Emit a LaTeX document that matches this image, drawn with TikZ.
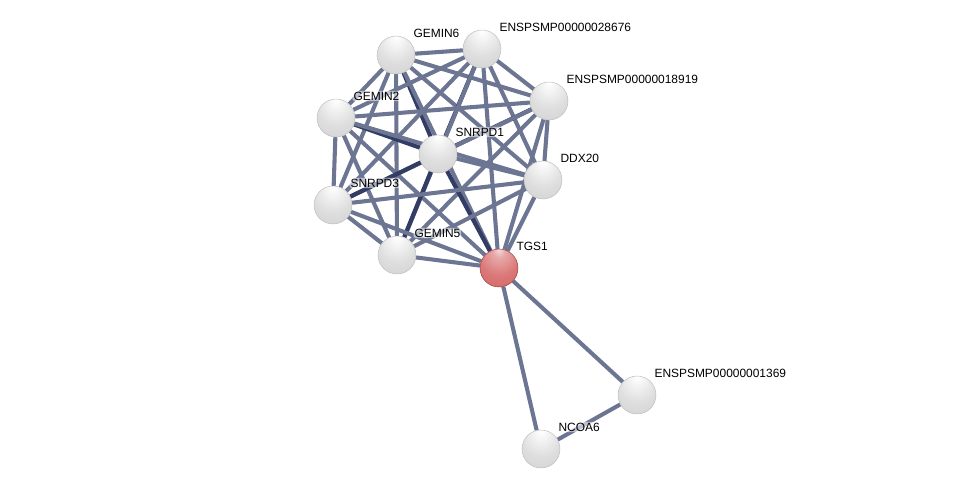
\documentclass[tikz,border=0pt]{standalone}
\usepackage{fontspec}
\setmainfont{Liberation Sans}
\usetikzlibrary{backgrounds}
\definecolor{edgec}{RGB}{108,117,146}
\definecolor{edged}{RGB}{50,60,100}
\definecolor{tgsc}{RGB}{212,96,96}
\definecolor{tgsrim}{RGB}{145,50,50}
\pgfdeclareradialshading{protball}{\pgfpoint{0bp}{24bp}}{%
  color(0bp)=(white); color(8bp)=(white!92!gray); color(26bp)=(gray!26);
  color(50bp)=(gray!38); color(64bp)=(gray!58); color(76bp)=(gray!72)}
\pgfdeclareradialshading{queryball}{\pgfpoint{0bp}{24bp}}{%
  color(0bp)=(white!75!tgsc); color(8bp)=(white!45!tgsc); color(26bp)=(white!15!tgsc);
  color(50bp)=(tgsc); color(64bp)=(tgsrim!75!tgsc); color(76bp)=(tgsrim)}
\tikzset{
  prot/.style={circle, minimum size=0.95cm, inner sep=0pt, shading=protball, draw=gray!55, line width=0.3pt},
  query/.style={prot, shading=queryball, draw=tgsrim},
  lbl/.style={anchor=west, inner sep=0.6pt, fill=white, fill opacity=0.55, text opacity=1,
    rounded corners=1pt, font=\fontsize{8.5}{9}\selectfont},
  lnk/.style={draw=edgec, line width=2.9pt},
  lnkd/.style={draw=edged, line width=3pt}
}
\begin{document}
\begin{tikzpicture}
  \useasboundingbox (0,0) rectangle (24.4,-12.375);
      \draw
        (9.9,-1.375) node[prot] (GEMIN6){} ++(0.41,0.55) node[lbl] (GEMIN6l){GEMIN6}
        (12.05,-1.225) node[prot] (E28676){} ++(0.41,0.55) node[lbl] (E28676l){ENSPSMP00000028676}
        (13.725,-2.525) node[prot] (E18919){} ++(0.41,0.55) node[lbl] (E18919l){ENSPSMP00000018919}
        (8.4,-2.95) node[prot] (GEMIN2){} ++(0.41,0.55) node[lbl] (GEMIN2l){GEMIN2}
        (10.95,-3.85) node[prot] (SNRPD1){} ++(0.41,0.55) node[lbl] (SNRPD1l){SNRPD1}
        (13.575,-4.5) node[prot] (DDX20){} ++(0.41,0.55) node[lbl] (DDX20l){DDX20}
        (8.325,-5.125) node[prot] (SNRPD3){} ++(0.41,0.55) node[lbl] (SNRPD3l){SNRPD3}
        (9.925,-6.375) node[prot] (GEMIN5){} ++(0.41,0.55) node[lbl] (GEMIN5l){GEMIN5}
        (12.475,-6.7) node[query] (TGS1){} ++(0.41,0.55) node[lbl] (TGS1l){TGS1}
        (15.925,-9.875) node[prot] (E1369){} ++(0.41,0.55) node[lbl] (E1369l){ENSPSMP00000001369}
        (13.525,-11.225) node[prot] (NCOA6){} ++(0.41,0.55) node[lbl] (NCOA6l){NCOA6};
      \begin{scope}[on background layer]
        \draw[lnk] (GEMIN6) to (E28676);
        \draw[lnk] (GEMIN6) to (E18919);
        \draw[lnk] (GEMIN6) to (GEMIN2);
        \draw[lnkd] (GEMIN6) to (SNRPD1);
        \draw[lnk] (GEMIN6) to (DDX20);
        \draw[lnk] (GEMIN6) to (SNRPD3);
        \draw[lnk] (GEMIN6) to (GEMIN5);
        \draw[lnk] (GEMIN6) to (TGS1);
        \draw[lnk] (E28676) to (E18919);
        \draw[lnk] (E28676) to (GEMIN2);
        \draw[lnkd] (E28676) to (SNRPD1);
        \draw[lnk] (E28676) to (DDX20);
        \draw[lnk] (E28676) to (SNRPD3);
        \draw[lnk] (E28676) to (GEMIN5);
        \draw[lnk] (E28676) to (TGS1);
        \draw[lnk] (E18919) to (GEMIN2);
        \draw[lnkd] (E18919) to (SNRPD1);
        \draw[lnk] (E18919) to (DDX20);
        \draw[lnk] (E18919) to (SNRPD3);
        \draw[lnk] (E18919) to (GEMIN5);
        \draw[lnk] (E18919) to (TGS1);
        \draw[lnkd] (GEMIN2) to (SNRPD1);
        \draw[lnk] (GEMIN2) to (DDX20);
        \draw[lnk] (GEMIN2) to (SNRPD3);
        \draw[lnk] (GEMIN2) to (GEMIN5);
        \draw[lnk] (GEMIN2) to (TGS1);
        \draw[lnk] (SNRPD1) to (DDX20);
        \draw[lnkd] (SNRPD1) to (SNRPD3);
        \draw[lnkd] (SNRPD1) to (GEMIN5);
        \draw[lnkd] (SNRPD1) to (TGS1);
        \draw[lnk] (DDX20) to (SNRPD3);
        \draw[lnk] (DDX20) to (GEMIN5);
        \draw[lnk] (DDX20) to (TGS1);
        \draw[lnk] (SNRPD3) to (GEMIN5);
        \draw[lnk] (SNRPD3) to (TGS1);
        \draw[lnk] (GEMIN5) to (TGS1);
        \draw[lnk] (TGS1) to (E1369);
        \draw[lnk] (TGS1) to (NCOA6);
        \draw[lnk] (NCOA6) to (E1369);
      \end{scope}
    \end{tikzpicture}
\end{document}
